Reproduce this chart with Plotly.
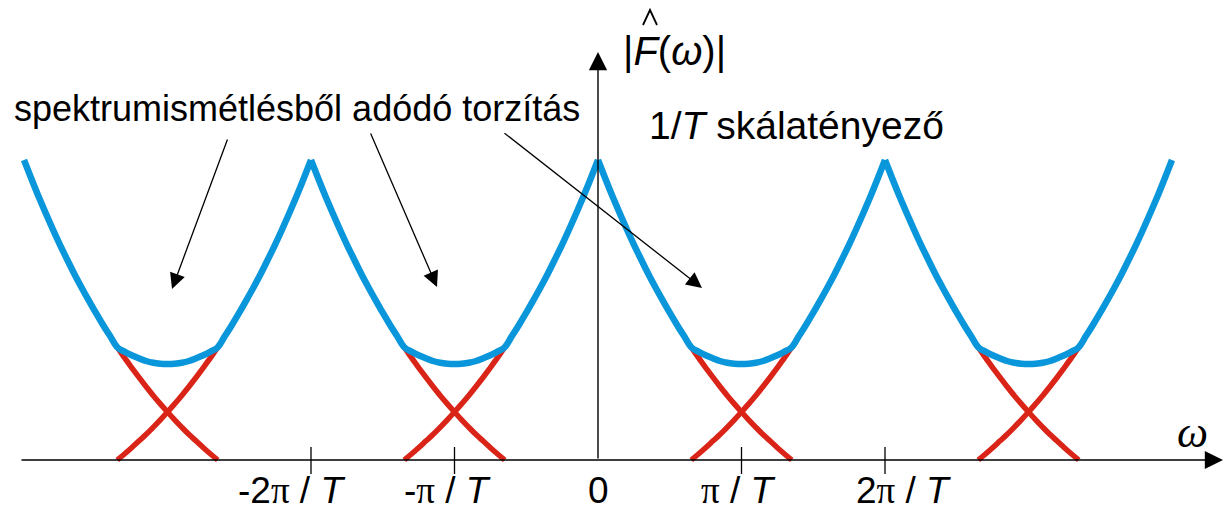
import plotly.graph_objects as go

# ---------------- data ----------------
# offset from the centre of one spectrum copy, in units of pi/T
offsets = [0.00, 0.05, 0.10, 0.15, 0.20, 0.25, 0.30, 0.35, 0.40, 0.45,
           0.50, 0.55, 0.60, 0.65, 0.70, 0.75, 0.80, 0.85, 0.90, 0.95,
           1.00, 1.05, 1.10, 1.15, 1.20, 1.25, 1.30, 1.35]
# |F(omega)| of one copy (peak = 1)
spectrum = [1.000, 0.939, 0.880, 0.824, 0.770, 0.718, 0.669, 0.621, 0.576, 0.533,
            0.491, 0.451, 0.413, 0.376, 0.341, 0.308, 0.276, 0.245, 0.215, 0.187,
            0.160, 0.134, 0.109, 0.085, 0.063, 0.041, 0.020, 0.000]
copy_centers = [-4, -2, 0, 2, 4]          # periodic copies (units of pi/T)
overlap_centers = [-3, -1, 1, 3]          # aliasing regions
tick_values = [-2, -1, 0, 1, 2]
PI = '<span style="font-family:Liberation Serif">π</span>'
tick_labels = ["-2" + PI + " / <i>T</i>", "-" + PI + " / <i>T</i>", "0",
               PI + " / <i>T</i>", "2" + PI + " / <i>T</i>"]
x_min, x_max = -4, 4

# ---------------- helpers ----------------
step = offsets[1] - offsets[0]
support = offsets[-1]


def copy_height(center, x):
    d = round(abs(x - center), 2)
    if d > support + 1e-9:
        return 0.0
    return spectrum[int(round(d / step))]


grid = sorted({round(c + s * u, 2) for c in copy_centers for s in (-1, 1) for u in offsets
               if x_min - 1e-9 <= c + s * u <= x_max + 1e-9})

# pixel <-> data mapping of the drawing
PX0, PXU, PY0, PYU = 598.0, 143.5, 460.0, 300.0
W, H = 1224, 513


def dx(px):
    return (px - PX0) / PXU


def dy(py):
    return (PY0 - py) / PYU


BLUE = "#0A96DA"
RED = "#DA2418"
FONT = "Liberation Sans"

fig = go.Figure()

# red tails of the overlapping copies
for k in overlap_centers:
    for c in (k - 1, k + 1):
        xs = [x for x in grid if abs(x - c) <= support + 1e-9 and abs(x - k) <= (support - 1) + 1e-9]
        fig.add_trace(go.Scatter(x=xs, y=[copy_height(c, x) for x in xs], mode="lines",
                                 line=dict(color=RED, width=5.5, shape="spline"),
                                 hoverinfo="skip", showlegend=False))

# blue: the aliased (summed) spectrum, one piece per period so the peaks stay sharp
for c in copy_centers[:-1]:
    xs = [x for x in grid if c - 1e-9 <= x <= c + 2 + 1e-9]
    ys = [sum(copy_height(cc, x) for cc in copy_centers) for x in xs]
    fig.add_trace(go.Scatter(x=xs, y=ys, mode="lines",
                             line=dict(color=BLUE, width=6.5, shape="spline"),
                             hoverinfo="skip", showlegend=False))

annotations = []
# axes with arrowheads
annotations.append(dict(x=dx(1223), y=0, ax=dx(20), ay=0, xref="x", yref="y", axref="x", ayref="y",
                        text="", showarrow=True, arrowhead=2, arrowsize=2.6, arrowwidth=1.4,
                        arrowcolor="black"))
annotations.append(dict(x=0, y=dy(52), ax=0, ay=0, xref="x", yref="y", axref="x", ayref="y",
                        text="", showarrow=True, arrowhead=2, arrowsize=2.6, arrowwidth=1.4,
                        arrowcolor="black"))
# pointer arrows
for (sx, sy, tx, ty) in [(228, 138, 172, 289), (370, 132, 437, 287), (503, 132, 702, 288)]:
    annotations.append(dict(x=dx(tx), y=dy(ty), ax=dx(sx), ay=dy(sy), xref="x", yref="y",
                            axref="x", ayref="y", text="", showarrow=True, arrowhead=2,
                            arrowsize=2.4, arrowwidth=1.3, arrowcolor="black"))

shapes = []
for t in tick_values:
    if t != 0:
        shapes.append(dict(type="line", x0=t, x1=t, y0=dy(447), y1=dy(474), xref="x", yref="y",
                           line=dict(color="black", width=1.3)))
# the hat over F
shapes.append(dict(type="path", xref="x", yref="y",
                   path=f"M {dx(643)},{dy(25)} L {dx(650)},{dy(10)} L {dx(657)},{dy(25)}",
                   line=dict(color="black", width=1.8)))

label_shift = {-2: -20, -1: -7, 0: 0, 1: -3, 2: 18}
for t, lab in zip(tick_values, tick_labels):
    annotations.append(dict(x=t, y=dy(490), xref="x", yref="y", text=lab, showarrow=False,
                            xshift=label_shift[t], font=dict(family=FONT, size=37, color="black")))

annotations.append(dict(x=dx(1192), y=dy(432), xref="x", yref="y", text="<i>ω</i>", showarrow=False,
                        font=dict(family="Liberation Serif", size=44, color="black")))
annotations.append(dict(x=dx(674), y=dy(51), xref="x", yref="y", text="|<i>F</i>(<i>ω</i>)|",
                        showarrow=False, font=dict(family=FONT, size=40, color="black")))
annotations.append(dict(x=dx(297), y=dy(108), xref="x", yref="y",
                        text="spektrumismétlésből adódó torzítás", showarrow=False,
                        font=dict(family=FONT, size=36, color="black")))
annotations.append(dict(x=dx(796), y=dy(125), xref="x", yref="y",
                        text="1/<i>T</i> skálatényező", showarrow=False,
                        font=dict(family=FONT, size=39, color="black")))

fig.update_layout(
    width=W, height=H, margin=dict(l=0, r=0, t=0, b=0),
    paper_bgcolor="white", plot_bgcolor="white",
    xaxis=dict(range=[dx(0), dx(W)], visible=False, fixedrange=True),
    yaxis=dict(range=[dy(H), dy(0)], visible=False, fixedrange=True),
    annotations=annotations, shapes=shapes, showlegend=False,
)

fig.write_html("out.html", config={"displayModeBar": False},
               post_script="document.body.style.margin='0px';")
